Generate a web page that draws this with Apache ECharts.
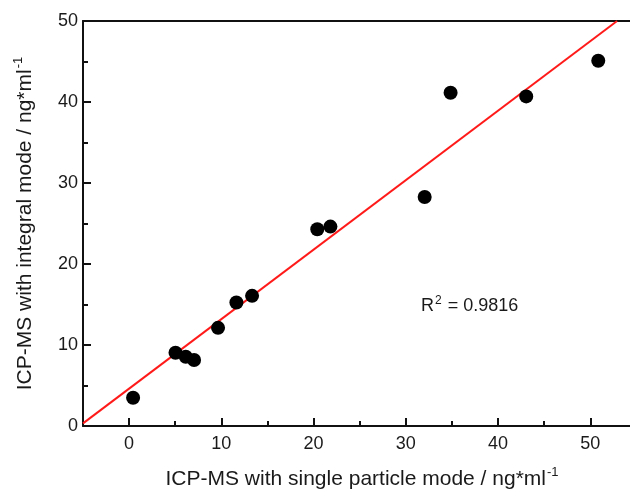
<!DOCTYPE html>
<html>
<head>
<meta charset="utf-8">
<script src="https://cdn.jsdelivr.net/npm/echarts@6/dist/echarts.min.js"></script>
<style>html,body{margin:0;padding:0;background:#fff}#c{width:630px;height:490px}</style>
</head>
<body>
<div id="c"></div>
<script>
// Data
var singleParticle = [0.43, 5.03, 6.14, 7.04, 9.64, 11.63, 13.33, 20.4, 21.82, 32.04, 34.85, 43.05, 50.86];
var integralMode   = [3.49, 9.04, 8.55, 8.14, 12.12, 15.25, 16.07, 24.29, 24.62, 28.27, 41.15, 40.69, 45.09];
var fitX = [-5, 52.9];
var fitY = [0.33, 50];
var xTickLabels = [0, 10, 20, 30, 40, 50];
var xMinorTicks = [-5, 5, 15, 25, 35, 45];
var rSquaredText = '0.9816';

var points = singleParticle.map(function (x, i) { return [x, integralMode[i]]; });
var fitLine = fitX.map(function (x, i) { return [x, fitY[i]]; });

var FONT = 'Liberation Sans, Arial, sans-serif';
var TXT = '#1a1a1a';
var axisLineStyle = { color: '#111', width: 2 };
var titleRich = {
  n: { fontSize: 21, fontFamily: FONT, color: TXT },
  s: { fontSize: 13, fontFamily: FONT, color: TXT, verticalAlign: 'top', padding: [0, 0, 13, 1] }
};

var chart = echarts.init(document.getElementById('c'), null, { renderer: 'canvas' });
chart.setOption({
  animation: false,
  backgroundColor: '#fff',
  grid: { left: 83, right: 0, top: 21, bottom: 64, containLabel: false, outerBoundsMode: 'none' },
  xAxis: [
    {
      type: 'value', min: -5, max: 54.3, position: 'bottom',
      splitLine: { show: false },
      axisLine: { show: true, onZero: false, lineStyle: axisLineStyle },
      axisTick: { show: true, inside: true, length: 8, lineStyle: { color: '#111', width: 2 }, customValues: xTickLabels },
      axisLabel: { show: true, customValues: xTickLabels, margin: 9, color: TXT, fontSize: 18, fontFamily: FONT },
      name: '{n|ICP-MS with single particle mode / ng*ml}{s|-1}',
      nameLocation: 'middle', nameGap: 40,
      nameTextStyle: { rich: titleRich, padding: [0, 0, 0, 11] }
    },
    {
      type: 'value', min: -5, max: 54.3, position: 'bottom',
      splitLine: { show: false },
      axisLine: { show: false, onZero: false },
      axisTick: { show: true, inside: true, length: 5, lineStyle: { color: '#111', width: 2 }, customValues: xMinorTicks },
      axisLabel: { show: false }
    },
    {
      type: 'value', min: -5, max: 54.3, position: 'top',
      splitLine: { show: false },
      axisLine: { show: true, onZero: false, lineStyle: axisLineStyle },
      axisTick: { show: false },
      axisLabel: { show: false }
    }
  ],
  yAxis: {
    type: 'value', min: 0, max: 50, interval: 10,
    splitLine: { show: false },
    axisLine: { show: true, onZero: false, lineStyle: axisLineStyle },
    axisTick: { show: true, inside: true, length: 8, lineStyle: { color: '#111', width: 2 } },
    minorTick: { show: true, splitNumber: 2, length: 5, lineStyle: { color: '#111', width: 2 } },
    axisLabel: { margin: 5, color: TXT, fontSize: 18, fontFamily: FONT },
    name: '{n|ICP-MS with integral mode / ng*ml}{s|-1}',
    nameLocation: 'middle', nameGap: 45, nameRotate: 90,
    nameTextStyle: { rich: titleRich }
  },
  series: [
    {
      type: 'line', data: fitLine, xAxisIndex: 0, symbol: 'none',
      lineStyle: { color: '#ff1a1a', width: 2 }, z: 2, silent: true
    },
    {
      type: 'scatter', data: points, xAxisIndex: 0, symbol: 'circle', symbolSize: 14,
      itemStyle: { color: '#000', opacity: 1 }, z: 3
    }
  ],
  graphic: [
    {
      type: 'text', left: 421, top: 295,
      style: {
        text: '{r|R}{s|2}{r| = ' + rSquaredText + '}',
        rich: {
          r: { fontSize: 18, fontFamily: FONT, fill: TXT },
          s: { fontSize: 12, fontFamily: FONT, fill: TXT, verticalAlign: 'top', padding: [0, 1, 10, 1] }
        }
      }
    }
  ]
});
</script>
</body>
</html>
